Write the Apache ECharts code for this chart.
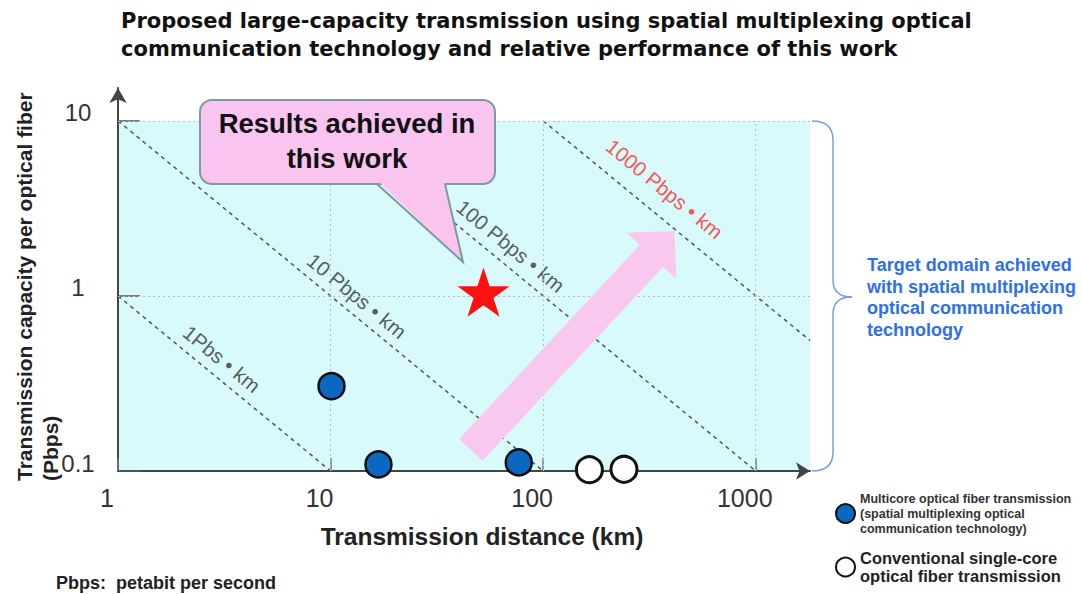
<!DOCTYPE html>
<html>
<head>
<meta charset="utf-8">
<script src="https://cdn.jsdelivr.net/npm/echarts@6/dist/echarts.min.js"></script>
<style>
  html, body { margin: 0; padding: 0; background: #fff; }
  #chart { width: 1082px; height: 594px; }
</style>
</head>
<body>
<div id="chart"></div>
<script>
// axis ticks
const xTicks = [1, 10, 100, 1000]
const yTicks = [0.1, 1, 10]
// results: distance (km) / capacity (Pbps)
const multicoreDist = [10.1, 16.8, 76.8]
const multicoreCap = [0.305, 0.109, 0.112]
const singleDist = [165, 240]
const singleCap = [0.1017, 0.1023]
const thisWorkDist = [52.4]
const thisWorkCap = [1.01]
// capacity x distance reference lines
const isoNames = ['1Pbs • km', '10 Pbps • km', '100 Pbps • km', '1000 Pbps • km']
const isoStart = [[1, 1], [1, 10], [10, 10], [100, 10]]
const isoEnd = [[10, 0.1], [100, 0.1], [1000, 0.1], [1800, 0.556]]
const isoLabelAt = [[3.08, 0.437], [13.3, 1.0], [70.4, 1.93], [373, 4.09]]
// trend arrow: tail km, tail Pbps, head km, head Pbps
const trendArrow = [[45.7, 0.132, 415, 2.35]]
// target domain
const domainX = [1, 1800]
const domainY = [0.1, 10]

const multiName = 'Multicore optical fiber transmission\n(spatial multiplexing optical\ncommunication technology)'
const singleName = 'Conventional single-core\noptical fiber transmission'
const FONT = 'Liberation Sans, Arial, sans-serif'

const myChart = echarts.init(document.getElementById('chart'), null, { renderer: 'svg' })

let gridLines = []
xTicks.slice(1).forEach(v => {
  gridLines.push([{ coord: [v, domainY[0]] }, { coord: [v, domainY[1]] }])
})
yTicks.slice(1).forEach(v => {
  gridLines.push([{ coord: [domainX[0], v] }, { coord: [domainX[1], v] }])
})

let series = []
// shaded target domain
series.push({
  type: 'line',
  data: [],
  z: 1,
  silent: true,
  markArea: {
    silent: true,
    itemStyle: { color: '#d8fafa' },
    data: [[{ coord: [domainX[0], domainY[0]] }, { coord: [domainX[1], domainY[1]] }]]
  }
})
// dotted grid inside the domain
series.push({
  type: 'line',
  data: [],
  z: 2,
  silent: true,
  markLine: {
    silent: true,
    symbol: 'none',
    label: { show: false },
    lineStyle: { color: '#bdbdbd', type: [2, 3], width: 1 },
    data: gridLines
  }
})
isoStart.forEach((s, i) => {
  series.push({
    type: 'line',
    silent: true,
    symbol: 'none',
    z: 4,
    lineStyle: { color: '#555', width: 1.5, type: [4, 4] },
    data: [s, isoEnd[i]]
  })
})
series.push({
  type: 'scatter',
  silent: true,
  symbolSize: 0,
  z: 4,
  data: isoLabelAt.map((p, i) => ({
    value: p,
    label: {
      show: true,
      position: 'inside',
      rotate: -39.4,
      formatter: isoNames[i],
      fontFamily: FONT,
      fontSize: 20.5,
      color: i === 3 ? '#ff2a2a' : '#333'
    }
  }))
})
series.push({
  type: 'custom',
  silent: true,
  z: 5,
  data: trendArrow,
  encode: { x: [0, 2], y: [1, 3] },
  renderItem (params, api) {
    const a = api.coord([api.value(0), api.value(1)])
    const b = api.coord([api.value(2), api.value(3)])
    const dx = b[0] - a[0]
    const dy = b[1] - a[1]
    const len = Math.hypot(dx, dy)
    const ux = dx / len
    const uy = dy / len
    const nx = -uy
    const ny = ux
    const sw = 16 // half shaft width
    const hw = 34 // half head width
    const hl = 34 // head length
    const bx = b[0] - ux * hl
    const by = b[1] - uy * hl
    return {
      type: 'polygon',
      shape: {
        points: [
          [a[0] + nx * sw, a[1] + ny * sw],
          [bx + nx * sw, by + ny * sw],
          [bx + nx * hw, by + ny * hw],
          b,
          [bx - nx * hw, by - ny * hw],
          [bx - nx * sw, by - ny * sw],
          [a[0] - nx * sw, a[1] - ny * sw]
        ]
      },
      style: { fill: '#f8c8ef' }
    }
  }
})
series.push({
  name: multiName,
  type: 'scatter',
  z: 6,
  symbol: 'circle',
  symbolSize: 26,
  itemStyle: { color: '#0a68c2', borderColor: '#111', borderWidth: 2.5, opacity: 1 },
  data: multicoreDist.map((d, i) => [d, multicoreCap[i]])
})
series.push({
  name: singleName,
  type: 'scatter',
  z: 6,
  symbol: 'circle',
  symbolSize: 26,
  itemStyle: { color: '#fff', borderColor: '#111', borderWidth: 3, opacity: 1 },
  data: singleDist.map((d, i) => [d, singleCap[i]])
})
series.push({
  name: 'This work',
  type: 'scatter',
  z: 6,
  symbol: 'path://M50,0 L61.2,34.5 L97.6,34.5 L68.2,55.9 L79.4,90.5 L50,69.1 L20.6,90.5 L31.8,55.9 L2.4,34.5 L38.8,34.5 Z',
  symbolKeepAspect: true,
  symbolSize: 52,
  symbolOffset: [0, -3],
  itemStyle: { color: '#ff1010', opacity: 1 },
  data: thisWorkDist.map((d, i) => [d, thisWorkCap[i]])
})

const braceStyle = { fill: 'none', stroke: '#74a0e6', lineWidth: 1.5 }

const option = {
  animation: false,
  backgroundColor: '#fff',
  textStyle: { fontFamily: FONT },
  title: {
    text: 'Proposed large-capacity transmission using spatial multiplexing optical\ncommunication technology and relative performance of this work',
    left: 121,
    top: 7,
    padding: 0,
    textStyle: { fontFamily: 'DejaVu Sans', fontSize: 21, fontWeight: 'bold', color: '#111', lineHeight: 28 }
  },
  grid: { left: 118, right: 272, top: 88, bottom: 123, containLabel: false },
  legend: {
    orient: 'vertical',
    left: 835,
    top: 491,
    padding: 0,
    itemGap: 13,
    itemWidth: 19,
    itemHeight: 19,
    icon: 'circle',
    selectedMode: false,
    data: [
      { name: multiName, textStyle: { fontSize: 12.5, fontWeight: 'bold', color: '#333', lineHeight: 15 } },
      { name: singleName, textStyle: { fontSize: 16.5, fontWeight: 'bold', color: '#222', lineHeight: 18 } }
    ]
  },
  xAxis: {
    type: 'log',
    logBase: 10,
    min: domainX[0],
    max: domainX[1],
    z: 3,
    axisLine: { show: true, symbol: ['none', 'arrow'], symbolSize: [13, 14], lineStyle: { color: '#444', width: 2 } },
    axisTick: { show: true, inside: true, length: 13, customValues: xTicks, lineStyle: { color: '#777', width: 1.5 } },
    axisLabel: {
      customValues: xTicks,
      margin: 14,
      formatter: v => '{t|' + v + '}',
      rich: { t: { fontSize: 25, color: '#333', fontFamily: FONT, padding: [0, 22, 0, 0] } }
    },
    splitLine: { show: false },
    minorTick: { show: false }
  },
  yAxis: {
    type: 'log',
    logBase: 10,
    min: domainY[0],
    max: 15.4,
    z: 3,
    axisLine: { show: true, symbol: ['none', 'arrow'], symbolSize: [13, 15], lineStyle: { color: '#444', width: 2 } },
    axisTick: { show: true, inside: true, length: 22, customValues: yTicks, lineStyle: { color: '#555', width: 1.5 } },
    axisLabel: {
      customValues: yTicks,
      margin: 40,
      align: 'center',
      verticalAlign: 'bottom',
      lineHeight: 16,
      fontSize: 24,
      color: '#333',
      fontFamily: FONT,
      formatter: v => String(v)
    },
    splitLine: { show: false }
  },
  graphic: [
    {
      type: 'text',
      x: 11,
      y: 481,
      rotation: Math.PI / 2,
      style: {
        text: 'Transmission capacity per optical fiber\n(Pbps)',
        font: 'bold 21px ' + FONT,
        fill: '#222',
        align: 'left',
        verticalAlign: 'top',
        lineHeight: 26
      }
    },
    {
      type: 'text',
      x: 482,
      y: 536,
      style: { text: 'Transmission distance (km)', font: 'bold 24.5px ' + FONT, fill: '#222', align: 'center', verticalAlign: 'middle' }
    },
    {
      type: 'text',
      x: 56,
      y: 583,
      style: { text: 'Pbps:  petabit per second', font: 'bold 18px ' + FONT, fill: '#222', align: 'left', verticalAlign: 'middle' }
    },
    // brace
    { type: 'bezierCurve', z: 10, shape: { x1: 812, y1: 121, cpx1: 833, cpy1: 121, x2: 833, y2: 140 }, style: braceStyle },
    { type: 'line', z: 10, shape: { x1: 833, y1: 140, x2: 833, y2: 280 }, style: braceStyle },
    { type: 'bezierCurve', z: 10, shape: { x1: 833, y1: 280, cpx1: 833, cpy1: 297, x2: 852, y2: 297 }, style: braceStyle },
    { type: 'bezierCurve', z: 10, shape: { x1: 852, y1: 297, cpx1: 833, cpy1: 297, x2: 833, y2: 314 }, style: braceStyle },
    { type: 'line', z: 10, shape: { x1: 833, y1: 314, x2: 833, y2: 452 }, style: braceStyle },
    { type: 'bezierCurve', z: 10, shape: { x1: 833, y1: 452, cpx1: 833, cpy1: 471, x2: 812, y2: 471 }, style: braceStyle },
    {
      type: 'text',
      x: 867,
      y: 254,
      style: {
        text: 'Target domain achieved\nwith spatial multiplexing\noptical communication\ntechnology',
        font: 'bold 18px ' + FONT,
        fill: '#2e6ff0',
        align: 'left',
        verticalAlign: 'top',
        lineHeight: 21.7
      }
    },
    // callout
    {
      type: 'rect',
      z: 100,
      shape: { x: 200, y: 100, width: 295, height: 84, r: 12 },
      style: { fill: '#f9c4ef', stroke: '#7d9b9b', lineWidth: 2 }
    },
    {
      type: 'polygon',
      z: 101,
      shape: { points: [[378, 181], [444, 181], [463, 262]] },
      style: { fill: '#f9c4ef' }
    },
    {
      type: 'polyline',
      z: 102,
      shape: { points: [[377, 184], [463, 262], [445, 184]] },
      style: { fill: 'none', stroke: '#7d9b9b', lineWidth: 2 }
    },
    {
      type: 'text',
      z: 103,
      x: 347,
      y: 141,
      style: {
        text: 'Results achieved in\nthis work',
        font: 'bold 27.5px ' + FONT,
        fill: '#111',
        align: 'center',
        verticalAlign: 'middle',
        lineHeight: 35
      }
    }
  ],
  series: series
}
myChart.setOption(option, true)
</script>
</body>
</html>
